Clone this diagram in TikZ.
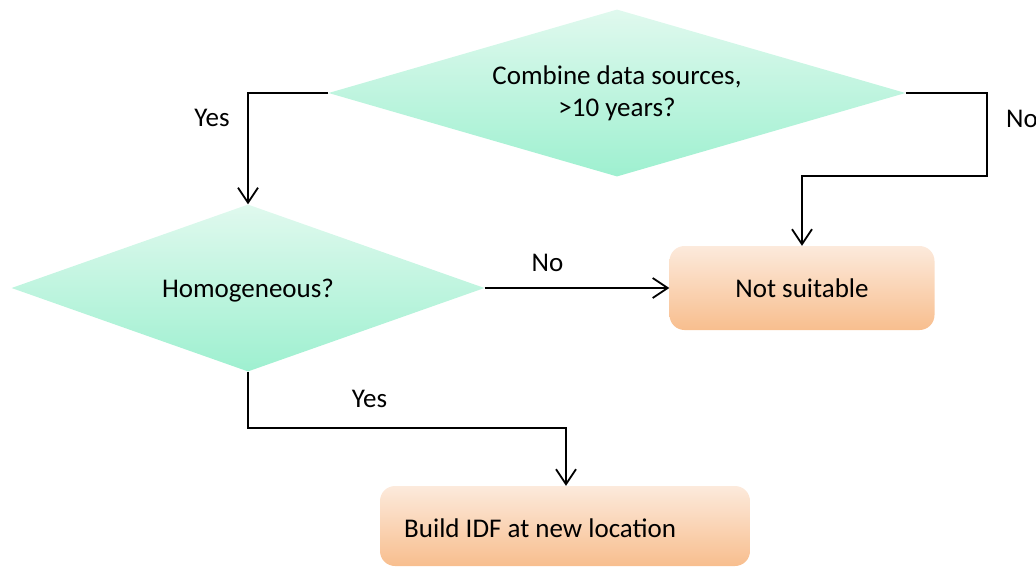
\documentclass[tikz,border=0pt]{standalone}
\usepackage{fontspec}
\setmainfont{Carlito}
\usetikzlibrary{shapes.geometric,arrows.meta}

\definecolor{decTop}{RGB}{224,249,238}
\definecolor{decBot}{RGB}{158,240,208}
\definecolor{endTop}{RGB}{252,234,220}
\definecolor{endBot}{RGB}{248,190,142}

\tikzset{
  decision/.style={diamond, inner sep=0pt, aspect=3.4,
    top color=decTop, bottom color=decBot, draw=none, align=center},
  terminal/.style={rectangle, rounded corners=15pt, inner sep=0pt,
    top color=endTop, bottom color=endBot, draw=none},
  flow/.style={draw=black, line width=1.8pt,
    -{Straight Barb[length=15pt,width=20pt,line width=1.8pt]}},
  lbl/.style={inner sep=0pt, anchor=base},
}

\begin{document}
\begin{tikzpicture}[x=1pt,y=-1pt,font=\fontsize{27}{32}\selectfont]
\useasboundingbox (0,0) rectangle (1036,567);

% decisions
\node[decision, minimum width=577pt, minimum height=167pt] (d1) at (617,93)
  {Combine data sources,\\ >10 years?};
\node[decision, minimum width=473pt, minimum height=167pt] (d2) at (248,288)
  {\rule{0pt}{23.4pt}Homogeneous?};

% outcomes
\node[terminal, minimum width=265pt, minimum height=84pt] (ns) at (802,288)
  {Not suitable};
\node[terminal, minimum width=370pt, minimum height=80pt] (idf) at (565,526) {};
\node[lbl, anchor=base west] (idft) at (404,537) {Build IDF at new location};

% bend points
\coordinate (c1) at (987,176);
\coordinate (c2) at (566,428);

% connectors
\draw[flow] (d1.west) -| (d2.north);
\draw[flow] (d1.east) -| (c1) -| (ns.north);
\draw[flow] (d2.east) -- (ns.west);
\draw[flow] (d2.south) |- (c2) -- (c2 |- idf.north);

% branch labels
\node[lbl] (y1) at (212,127) {Yes};
\node[lbl, anchor=base west] (n1) at (1006,128) {No};
\node[lbl] (n2) at (547.5,271) {No};
\node[lbl] (y2) at (369.5,407) {Yes};
\end{tikzpicture}
\end{document}
